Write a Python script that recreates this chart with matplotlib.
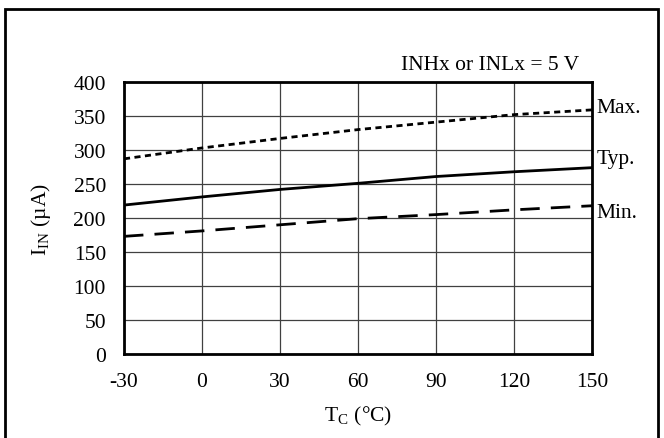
import matplotlib.pyplot as plt
from matplotlib.patches import Rectangle

plt.rcParams['font.family'] = ['Liberation Serif', 'DejaVu Serif']
plt.rcParams['mathtext.fontset'] = 'stix'
plt.rcParams['axes.unicode_minus'] = False

temp = [-30, 0, 30, 60, 90, 120, 150]
i_max = [287, 303, 317, 330, 341, 352, 359]
i_typ = [219, 231, 242, 251, 261, 268, 274]
i_min = [173, 181, 190, 199, 205, 212, 218]

x_ticks = [-30, 0, 30, 60, 90, 120, 150]
y_ticks = [0, 50, 100, 150, 200, 250, 300, 350, 400]

# curve names and where the names sit on the right side
names = ['Max.', 'Typ.', 'Min.']
name_y = [362, 288, 208]

fig = plt.figure(figsize=(6.64, 4.39), dpi=100)
ax = fig.add_axes([124 / 664, 1 - 355 / 439, 468 / 664, 272 / 439])

ax.plot(temp, i_max, color='black', lw=2, linestyle=(0, (2.2, 1.6)))
ax.plot(temp, i_typ, color='black', lw=2, linestyle='-')
ax.plot(temp, i_min, color='black', lw=2, linestyle=(0, (7, 4)))

ax.set_xlim(-30, 150)
ax.set_ylim(0, 400)
ax.set_xticks(x_ticks)
ax.set_yticks(y_ticks)
ax.tick_params(axis='y', length=0, labelsize=15.5, pad=13)
ax.tick_params(axis='x', length=0, labelsize=15.5, pad=13)
ax.grid(True, color='#404040', lw=0.9)
for s in ax.spines.values():
    s.set_linewidth(2)
    s.set_color('black')

ax.set_xlabel('T$_\\mathregular{C}$ (°C)', fontsize=15.5, labelpad=9)
ax.set_ylabel('I$_\\mathregular{IN}$ (µA)', fontsize=15.5, labelpad=15)

fig.text(579 / 664, 1 - 70 / 439, 'INHx or INLx = 5 V', ha='right',
         va='baseline', fontsize=15.5)

for y, lab in zip(name_y, names):
    ax.annotate(lab, xy=(150, y), xytext=(3.5, 0), textcoords='offset points',
                ha='left', va='center', fontsize=15.5, annotation_clip=False)

fig.patches.append(Rectangle((5 / 664, -0.05), 653 / 664, 1.05 - 10 / 439,
                             transform=fig.transFigure, fill=False,
                             edgecolor='black', lw=2))

fig.savefig('out.png', dpi=100)
